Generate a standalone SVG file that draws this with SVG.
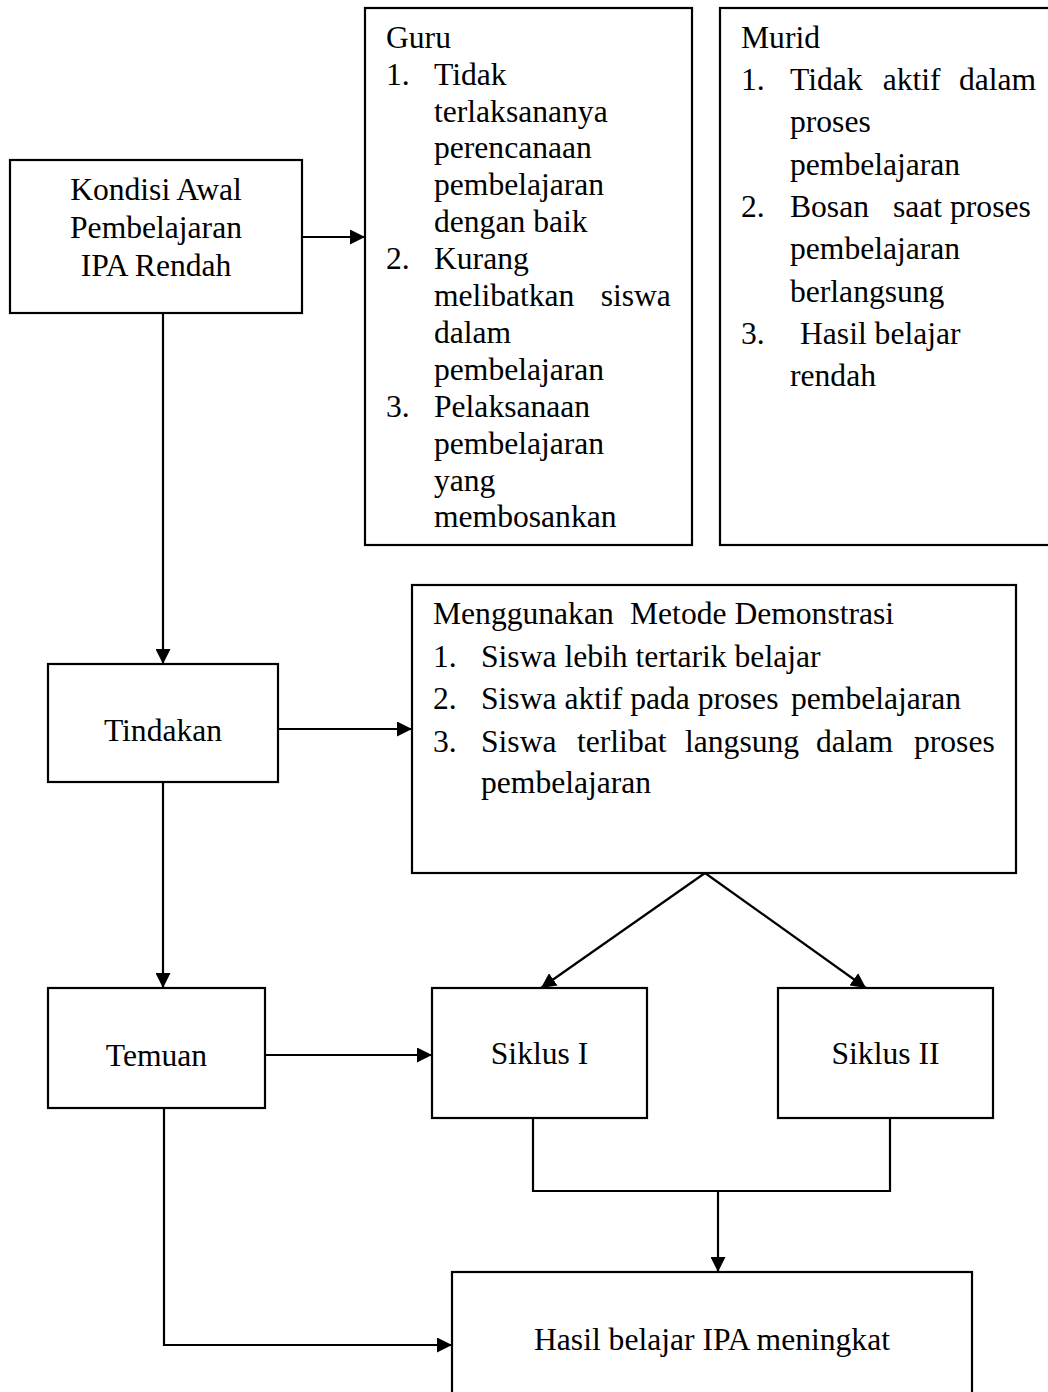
<svg xmlns="http://www.w3.org/2000/svg" width="1048" height="1392" viewBox="0 0 1048 1392">
<style>
.box{fill:#fff;stroke:#000;stroke-width:2.2}
.t{font-family:"Liberation Serif","Times New Roman",serif;font-size:31.6px;fill:#000}
.c{text-anchor:middle}
.ln{fill:none;stroke:#000;stroke-width:2.2}
</style>
<defs>
<marker id="ah" markerUnits="userSpaceOnUse" markerWidth="15" markerHeight="15" viewBox="0 0 15 15" refX="15" refY="7.5" orient="auto"><path d="M0,0 L15,7.5 L0,15 z" fill="#000"/></marker>
</defs>
<rect width="1048" height="1392" fill="#fff"/>

<g id="connectors">
<path class="ln" d="M302,237 H365" marker-end="url(#ah)"/>
<path class="ln" d="M163,313 V664" marker-end="url(#ah)"/>
<path class="ln" d="M278,729 H412" marker-end="url(#ah)"/>
<path class="ln" d="M163,782 V988" marker-end="url(#ah)"/>
<path class="ln" d="M705,873 L541,988" marker-end="url(#ah)"/>
<path class="ln" d="M705,873 L866,988" marker-end="url(#ah)"/>
<path class="ln" d="M265,1055 H432" marker-end="url(#ah)"/>
<path class="ln" d="M533,1118 V1191 H890 V1118"/>
<path class="ln" d="M718,1191 V1272" marker-end="url(#ah)"/>
<path class="ln" d="M164,1108 V1345 H452" marker-end="url(#ah)"/>
</g>

<g id="kondisi">
<rect class="box" x="10" y="160" width="292" height="153"/>
<text class="t c" x="156" y="200">Kondisi Awal</text>
<text class="t c" x="156" y="237.5">Pembelajaran</text>
<text class="t c" x="156" y="275.5">IPA Rendah</text>
</g>

<g id="guru">
<rect class="box" x="365" y="8" width="327" height="537"/>
<text class="t" x="386" y="47.7">Guru</text>
<text class="t" x="386" y="84.6">1.</text>
<text class="t" x="434" y="84.6">Tidak</text>
<text class="t" x="434" y="121.5">terlaksananya</text>
<text class="t" x="434" y="158.4">perencanaan</text>
<text class="t" x="434" y="195.3">pembelajaran</text>
<text class="t" x="434" y="232.2">dengan baik</text>
<text class="t" x="386" y="269.1">2.</text>
<text class="t" x="434" y="269.1">Kurang</text>
<text class="t" x="434" y="306">melibatkan</text>
<text class="t" x="600.7" y="306">siswa</text>
<text class="t" x="434" y="342.9">dalam</text>
<text class="t" x="434" y="379.8">pembelajaran</text>
<text class="t" x="386" y="416.7">3.</text>
<text class="t" x="434" y="416.7">Pelaksanaan</text>
<text class="t" x="434" y="453.6">pembelajaran</text>
<text class="t" x="434" y="490.5">yang</text>
<text class="t" x="434" y="527.4">membosankan</text>
</g>

<g id="murid">
<rect class="box" x="720" y="8" width="345" height="537"/>
<text class="t" x="741" y="47.7">Murid</text>
<text class="t" x="741" y="90">1.</text>
<text class="t" x="790" y="90">Tidak</text>
<text class="t" x="882.7" y="90">aktif</text>
<text class="t" x="959" y="90">dalam</text>
<text class="t" x="790" y="132.3">proses</text>
<text class="t" x="790" y="174.6">pembelajaran</text>
<text class="t" x="741" y="217">2.</text>
<text class="t" x="790" y="217">Bosan</text>
<text class="t" x="893" y="217">saat proses</text>
<text class="t" x="790" y="259.2">pembelajaran</text>
<text class="t" x="790" y="301.5">berlangsung</text>
<text class="t" x="741" y="343.8">3.</text>
<text class="t" x="800" y="343.8">Hasil belajar</text>
<text class="t" x="790" y="386">rendah</text>
</g>

<g id="tindakan">
<rect class="box" x="48" y="664" width="230" height="118"/>
<text class="t c" x="163" y="741">Tindakan</text>
</g>

<g id="metode">
<rect class="box" x="412" y="585" width="604" height="288"/>
<text class="t" x="433" y="624">Menggunakan</text>
<text class="t" x="630" y="624">Metode Demonstrasi</text>
<text class="t" x="433" y="666.5">1.</text>
<text class="t" x="481" y="666.5">Siswa lebih tertarik belajar</text>
<text class="t" x="433" y="709">2.</text>
<text class="t" x="481" y="709">Siswa aktif pada proses</text>
<text class="t" x="791" y="709">pembelajaran</text>
<text class="t" x="433" y="751.5">3.</text>
<text class="t" x="481" y="751.5">Siswa</text>
<text class="t" x="577" y="751.5">terlibat</text>
<text class="t" x="685" y="751.5">langsung</text>
<text class="t" x="816" y="751.5">dalam</text>
<text class="t" x="914" y="751.5">proses</text>
<text class="t" x="481" y="793">pembelajaran</text>
</g>

<g id="temuan">
<rect class="box" x="48" y="988" width="217" height="120"/>
<text class="t c" x="156.5" y="1065.5">Temuan</text>
</g>

<g id="siklus1">
<rect class="box" x="432" y="988" width="215" height="130"/>
<text class="t c" x="539.5" y="1064">Siklus I</text>
</g>

<g id="siklus2">
<rect class="box" x="778" y="988" width="215" height="130"/>
<text class="t c" x="885.5" y="1064">Siklus II</text>
</g>

<g id="hasil">
<rect class="box" x="452" y="1272" width="520" height="140"/>
<text class="t c" x="712" y="1350">Hasil belajar IPA meningkat</text>
</g>
</svg>
